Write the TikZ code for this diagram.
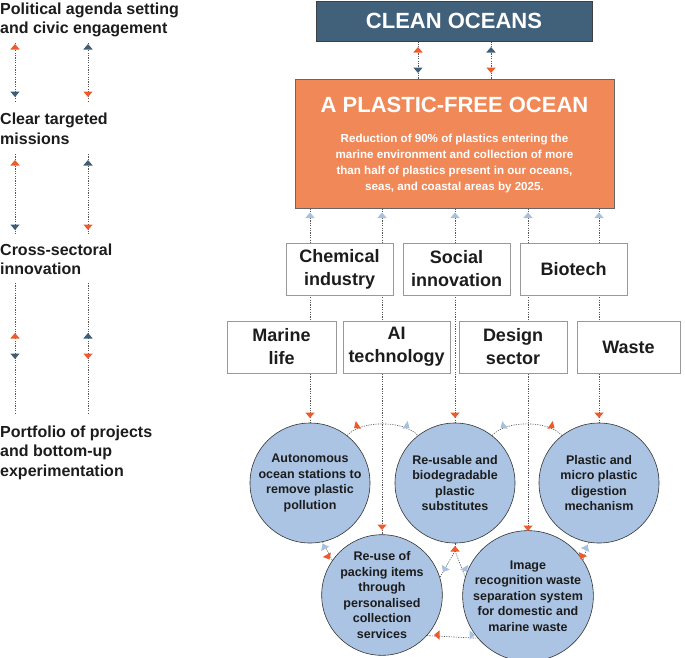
\documentclass[tikz,border=0pt]{standalone}
\usepackage{fontspec}
\setmainfont{Liberation Sans}
\usetikzlibrary{backgrounds,calc}
\definecolor{slate}{HTML}{41607A}
\definecolor{orbox}{HTML}{F08858}
\definecolor{orng}{HTML}{EE5A2A}
\definecolor{dkar}{HTML}{3E5D77}
\definecolor{ltar}{HTML}{A8C0E0}
\definecolor{circ}{HTML}{ABC4E3}
\definecolor{txt}{HTML}{1C1C1C}
\definecolor{dline}{HTML}{555555}
\begin{document}
\begin{tikzpicture}[x=1pt,y=-1pt,
  dl/.style={draw=dline, line width=0.6pt, dash pattern=on 1.2pt off 1.2pt},
  ah/.pic={\fill (0,0) -- (-5.5,4.7) -- (-5.5,-4.7) -- cycle;},
  lbl/.style={anchor=north west, inner sep=0pt, align=left, font=\bfseries\fontsize{16}{19.5}\selectfont, text=txt},
  sector/.style={draw=gray!80, line width=0.7pt, fill=white, minimum width=107pt, minimum height=52pt, inner sep=0pt, align=center, font=\bfseries\fontsize{18}{23}\selectfont, text=txt},
  proj/.style={circle, draw=black!80, line width=0.6pt, fill=circ, minimum size=120pt, inner sep=0pt, align=center, font=\bfseries\fontsize{12.5}{15.6}\selectfont, text=txt},
]
\useasboundingbox (0,0) rectangle (685,657);

% left column labels
\node[lbl] (l1) at (0,2.5) {Political agenda setting\\and civic engagement};
\node[lbl] (l2) at (0,113) {Clear targeted\\missions};
\node[lbl] (l3) at (0,243.5) {Cross-sectoral\\innovation};
\node[lbl] (l4) at (0,425.5) {Portfolio of projects\\and bottom-up\\experimentation};

% left column connectors
\coordinate (a1t) at (15,43);  \coordinate (a1b) at (15,101);
\coordinate (b1t) at (88,43);  \coordinate (b1b) at (88,101);
\coordinate (a2t) at (15,154); \coordinate (a2b) at (15,235);
\coordinate (b2t) at (88,154); \coordinate (b2b) at (88,235);
\coordinate (a3t) at (15,283); \coordinate (a3b) at (15,413);
\coordinate (b3t) at (88,283); \coordinate (b3b) at (88,413);
\draw[dl] (a1t) -- (a1b); \draw[dl] (b1t) -- (b1b);
\draw[dl] (a2t) -- (a2b); \draw[dl] (b2t) -- (b2b);
\draw[dl] (a3t) -- (a3b); \draw[dl] (b3t) -- (b3b);
\pic[orng, rotate=90] at (15,44) {ah};
\pic[dkar, rotate=-90] at (15,97) {ah};
\pic[dkar, rotate=90] at (88,44) {ah};
\pic[orng, rotate=-90] at (88,97) {ah};
\pic[orng, rotate=90] at (15,160) {ah};
\pic[dkar, rotate=-90] at (15,230) {ah};
\pic[dkar, rotate=90] at (88,160) {ah};
\pic[orng, rotate=-90] at (88,230) {ah};
\pic[orng, rotate=90] at (15,333) {ah};
\pic[dkar, rotate=-90] at (15,359) {ah};
\pic[dkar, rotate=90] at (88,333) {ah};
\pic[orng, rotate=-90] at (88,359) {ah};

% top boxes
\node[draw=black!75, line width=0.6pt, fill=slate, minimum width=276pt, minimum height=40pt, inner sep=0pt, font=\bfseries\fontsize{22}{26}\selectfont, text=white] (clean) at (454,21) {CLEAN OCEANS};
\node[draw=black!60, line width=0.6pt, fill=orbox, minimum width=319pt, minimum height=129pt, inner sep=0pt] (ocean) at (454.5,143.5) {};
\node[inner sep=0pt, font=\bfseries\fontsize{22}{26}\selectfont, text=white] (otitle) at (454.5,105) {A PLASTIC-FREE OCEAN};
\node[inner sep=0pt, align=center, font=\bfseries\fontsize{11.6}{16}\selectfont, text=white] (obody) at (454.5,163.5) {Reduction of 90\% of plastics entering the\\marine environment and collection of more\\than half of plastics present in our oceans,\\seas, and coastal areas by 2025.};

% sector boxes
\node[sector] (chem) at (339.5,269) {Chemical\\industry};
\node[sector] (soc) at (456.5,269) {Social\\innovation};
\node[sector] (bio) at (573.5,269) {Biotech};
\node[sector, minimum width=109pt] (mar) at (281.5,347) {Marine\\life};
\node[sector] (ai) at (396.5,347) {AI\\technology};
\node[sector, minimum width=108pt] (des) at (513,347) {Design\\sector};
\node[sector, minimum width=103pt] (was) at (628.5,347) {Waste};

% project circles
\node[proj] (c1) at (310,483) {Autonomous\\ocean stations to\\remove plastic\\pollution};
\node[proj] (c2) at (455,483) {Re-usable and\\biodegradable\\plastic\\substitutes};
\node[proj] (c3) at (599,483) {Plastic and\\micro plastic\\digestion\\mechanism};
\node[proj] (c4) at (382,595) {Re-use of\\packing items\\through\\personalised\\collection\\services};
\node[proj] (c5) at (528,596) {Image\\recognition waste\\separation system\\for domestic and\\marine waste};

\coordinate (k1) at (418,0);
\coordinate (k2) at (491,0);
\coordinate (fork) at (455,551);

\begin{pgfonlayer}{background}
\draw[dl] (clean.south -| k1) -- (ocean.north -| k1);
\draw[dl] (clean.south -| k2) -- (ocean.north -| k2);
\draw[dl] (ocean.south -| c1) -- (c1.north);
\draw[dl] (ocean.south -| c4) -- (c4.north);
\draw[dl] (ocean.south -| c2) -- (c2.north);
\draw[dl] (ocean.south -| c5) -- (c5.north);
\draw[dl] (ocean.south -| c3) -- (c3.north);
\draw[dl] (c1.52) .. controls (361,420) and (404,420) .. (c2.128);
\draw[dl] (c2.52) .. controls (506,420) and (548,420) .. (c3.128);
\draw[dl] (c1.-78) -- (c4.145);
\draw[dl] (c3.-100) -- (c5.33);
\draw[dl] (c2.south) -- (fork);
\draw[dl] (fork) -- (c4.17);
\draw[dl] (fork) -- (c5.163);
\draw[dl] (c4.-42) -- (c5.220);
\end{pgfonlayer}

% arrowheads between clean and ocean
\pic[orng, rotate=90] at (418,47) {ah};
\pic[dkar, rotate=-90] at (418,73) {ah};
\pic[dkar, rotate=90] at (491,47) {ah};
\pic[orng, rotate=-90] at (491,73) {ah};

% light-blue heads below the ocean box
\foreach \xx in {310,382,455,528,599} {\pic[ltar, rotate=90] at (\xx,212.5) {ah};}

% orange heads into circles
\pic[orng, rotate=-90] at (310,418) {ah};
\pic[orng, rotate=-90] at (455,418) {ah};
\pic[orng, rotate=-90] at (599,418) {ah};
\pic[orng, rotate=-90] at (382,530) {ah};
\pic[orng, rotate=-90] at (528,531) {ah};

% arcs
\pic[orng, rotate=215] at (354,428) {ah};
\pic[ltar, rotate=-35] at (409.5,428) {ah};
\pic[ltar, rotate=215] at (500.5,428) {ah};
\pic[orng, rotate=-35] at (554.5,428) {ah};

% diagonal links
\pic[ltar, rotate=119] at (322.5,544) {ah};
\pic[orng, rotate=-61] at (329.5,559.5) {ah};
\pic[ltar, rotate=64] at (587.5,545) {ah};
\pic[orng, rotate=244] at (580.5,559) {ah};

% fork
\pic[orng, rotate=90] at (455,546) {ah};
\pic[ltar, rotate=239.5] at (443,572) {ah};
\pic[ltar, rotate=300.5] at (467,572) {ah};

% bottom link
\pic[orng, rotate=180] at (434,635) {ah};
\pic[ltar, rotate=0] at (475,635) {ah};
\end{tikzpicture}
\end{document}
